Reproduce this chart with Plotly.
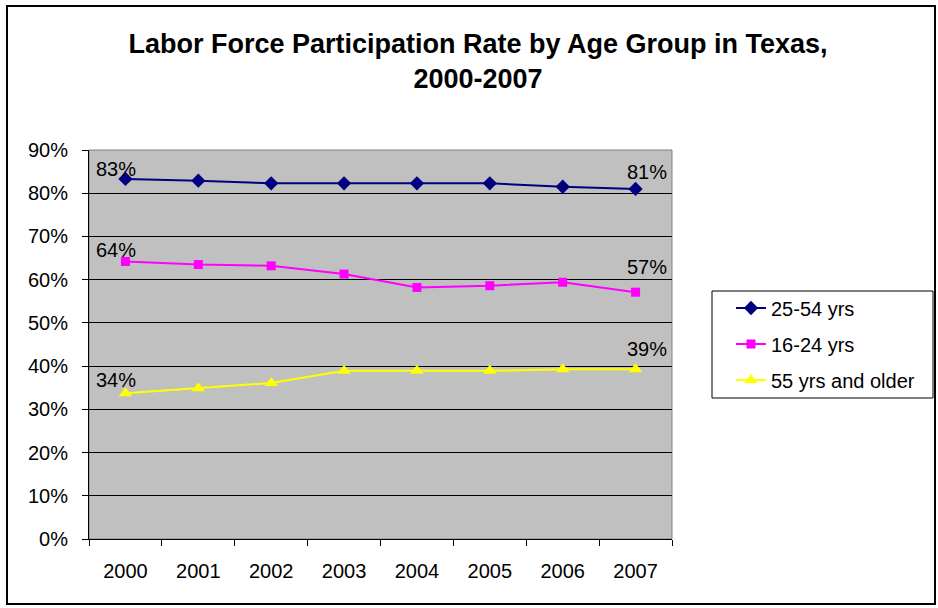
import plotly.graph_objects as go

years = ["2000", "2001", "2002", "2003", "2004", "2005", "2006", "2007"]
series_names = ["25-54 yrs", "16-24 yrs", "55 yrs and older"]
prime_age = [0.833, 0.829, 0.823, 0.823, 0.823, 0.823, 0.815, 0.810]
youth = [0.642, 0.635, 0.632, 0.613, 0.582, 0.586, 0.594, 0.571]
older = [0.337, 0.349, 0.361, 0.389, 0.389, 0.389, 0.393, 0.393]
y_ticks = [0, 0.1, 0.2, 0.3, 0.4, 0.5, 0.6, 0.7, 0.8, 0.9]
y_tick_labels = ["0%", "10%", "20%", "30%", "40%", "50%", "60%", "70%", "80%", "90%"]

colors = ["#000080", "#FF00FF", "#FFFF00"]
symbols = ["diamond", "square", "triangle-up"]
msizes = [11, 9, 12]
first_shift = [(-9, 10), (-9, 12), (-9, 13)]
last_shift = [(11, 17), (11, 25), (11, 20)]

FONT = "Liberation Sans, Arial, sans-serif"
W, H = 938, 608
L, R, T, B = 89, 938 - 672, 150, 608 - 539
pw, ph = W - L - R, H - T - B

def px(x):
    return (x - L) / pw

def py(y):
    return (H - B - y) / ph

fig = go.Figure()
data = [prime_age, youth, older]
legend_ids = ["legend", "legend2", "legend3"]
for i, (name, vals) in enumerate(zip(series_names, data)):
    fig.add_trace(go.Scatter(
        x=years, y=vals, name=name, mode="lines+markers",
        line=dict(color=colors[i], width=2),
        marker=dict(symbol=symbols[i], size=msizes[i], color=colors[i]),
        legend=legend_ids[i],
    ))
    for idx, (dx, dy) in ((0, first_shift[i]), (len(years) - 1, last_shift[i])):
        fig.add_annotation(
            xref="x", yref="y", x=idx, y=vals[idx],
            text=f"{round(vals[idx]*100)}%",
            showarrow=False, xshift=dx, yshift=dy, yanchor="middle",
            font=dict(family=FONT, size=20, color="black"),
        )

leg_mid = [308, 344, 380]
for i, lid in enumerate(legend_ids):
    fig.update_layout(**{lid: dict(
        x=px(731), y=py(leg_mid[i]), xanchor="left", yanchor="middle",
        font=dict(family=FONT, size=20, color="black"),
        bgcolor="rgba(0,0,0,0)", borderwidth=0,
        itemwidth=30,
    )})

fig.update_layout(
    width=W, height=H,
    margin=dict(l=L, r=R, t=T, b=B),
    paper_bgcolor="white",
    plot_bgcolor="#C0C0C0",
    showlegend=True,
    title=dict(
        text="<b>Labor Force Participation Rate by Age Group in Texas,<br>2000-2007</b>",
        x=478 / W, xanchor="center", y=1 - 53 / H, yanchor="middle",
        font=dict(family=FONT, size=27, color="black"),
    ),
    xaxis=dict(
        type="category", tickson="boundaries", ticks="outside", ticklen=6,
        tickcolor="black", showline=True, linecolor="black", linewidth=1,
        showgrid=False, tickfont=dict(family=FONT, size=20, color="black"),
        range=[-0.5, 7.5], fixedrange=True, ticklabelstandoff=14,
    ),
    yaxis=dict(
        range=[0, 0.9], tickvals=y_ticks, ticktext=y_tick_labels,
        ticks="outside", ticklen=6, tickcolor="black",
        showline=True, linecolor="black", linewidth=1,
        showgrid=True, gridcolor="black", gridwidth=1,
        tickfont=dict(family=FONT, size=20, color="black"),
        zeroline=False, ticklabelstandoff=10,
    ),
    shapes=[
        dict(type="rect", xref="paper", yref="paper", x0=0, x1=1, y0=0, y1=1,
             line=dict(color="#808080", width=1), layer="below"),
        dict(type="rect", xref="paper", yref="paper", x0=px(712), x1=px(933),
             y0=py(398), y1=py(291), line=dict(color="black", width=1),
             fillcolor="white", layer="below"),
        dict(type="rect", xref="paper", yref="paper", x0=px(7), x1=px(935),
             y0=py(604), y1=py(6), line=dict(color="black", width=2),
             layer="below"),
    ],
)

fig.write_html("out.html", config={"displayModeBar": False},
               post_script="document.body.style.margin='0';")
